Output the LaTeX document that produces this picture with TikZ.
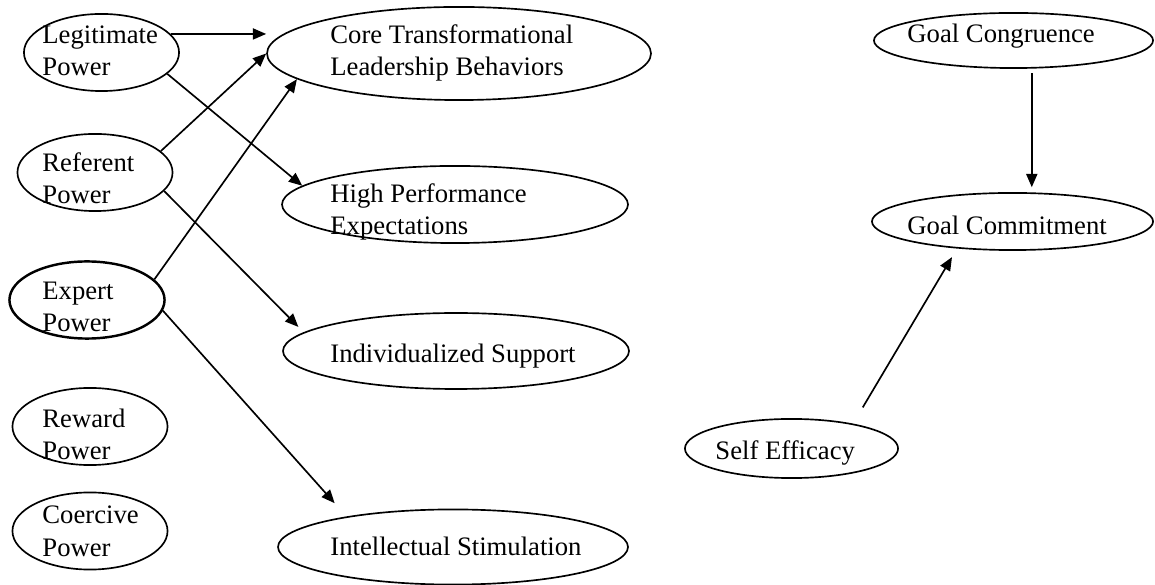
\documentclass[tikz,border=0pt]{standalone}
\usepackage{fontspec}
\setmainfont{Liberation Serif}
\usetikzlibrary{arrows.meta, shapes.geometric}

\begin{document}
\begin{tikzpicture}[x=0.45pt, y=-0.45pt,
  oval/.style     = {draw, ellipse, inner sep=0pt, line width=0.75pt},
  powernode/.style= {oval, minimum width=69.8pt, minimum height=34.7pt},
  lbl/.style      = {anchor=base west, inner sep=0pt, align=left,
                     font=\fontsize{12pt}{14.6pt}\selectfont},
  arr/.style      = {-{Triangle[length=6pt,width=5pt]}, line width=0.75pt},
]
\useasboundingbox (0,0) rectangle (1155,585);

%% ── Power bases ───────────────────────────────────────────────────
\node[powernode] (legit)  at (101.5,52.5) {};
\node[powernode] (refer)  at (95,172.5)   {};
\node[powernode, line width=1.1pt] (expert) at (87,300) {};
\node[powernode] (reward) at (90,426.5)   {};
\node[powernode] (coerc)  at (90,531)     {};
\node[lbl] (legitT)  at (42,76)  {Legitimate\\Power};
\node[lbl] (referT)  at (42,204) {Referent\\Power};
\node[lbl] (expertT) at (42,332) {Expert\\Power};
\node[lbl] (rewardT) at (42,460) {Reward\\Power};
\node[lbl] (coercT)  at (42,556) {Coercive\\Power};

%% ── Leadership behaviors ──────────────────────────────────────────
\node[oval, minimum width=172.8pt, minimum height=41.9pt] (core)  at (459,53.5)  {};
\node[oval, minimum width=155.7pt, minimum height=34.7pt] (highp) at (455,204.5) {};
\node[oval, minimum width=155.7pt, minimum height=34.2pt] (indiv) at (456,351)   {};
\node[oval, minimum width=157.5pt, minimum height=33.8pt] (intel) at (453,547)   {};
\node[lbl] (coreT)  at (330,76)  {Core Transformational\\Leadership Behaviors};
\node[lbl] (highpT) at (330,235) {High Performance\\Expectations};
\node[lbl] (indivT) at (330,363) {Individualized Support};
\node[lbl] (intelT) at (330,555) {Intellectual Stimulation};

%% ── Goals ─────────────────────────────────────────────────────────
\node[oval, minimum width=125.6pt, minimum height=24.8pt] (congr)  at (1013.5,40.5)  {};
\node[oval, minimum width=126.5pt, minimum height=25.7pt] (commit) at (1012.5,221.5) {};
\node[oval, minimum width=95.9pt,  minimum height=26.6pt] (selfe)  at (791.5,448.5)  {};
\node[lbl] (congrT)  at (907,43)  {Goal Congruence};
\node[lbl] (commitT) at (907,235) {Goal Commitment};
\node[lbl] (selfeT)  at (715,460) {Self Efficacy};

%% ── Links ─────────────────────────────────────────────────────────
\draw[arr] (legit.15) -- (legit.15 -| core.west);
\draw[arr] (legit.-18) -- (highp.173.5);
\draw[arr] (refer.18) -- (core.west);
\draw[arr] (expert.17.7) -- (core.189.2);
\draw[arr, shorten >=3.4pt] (refer.-15) -- (indiv.173);
\draw[arr, shorten >=8pt] (expert.-8.5) -- (intel.164);
\draw[arr, shorten <=2pt, shorten >=2.2pt] (congr.-57.3) -- (congr.-57.3 |- commit.north);
\draw[arr, shorten <=8.5pt, shorten >=4.5pt] (selfe.22.4) -- (commit.206.4);

\end{tikzpicture}
\end{document}
